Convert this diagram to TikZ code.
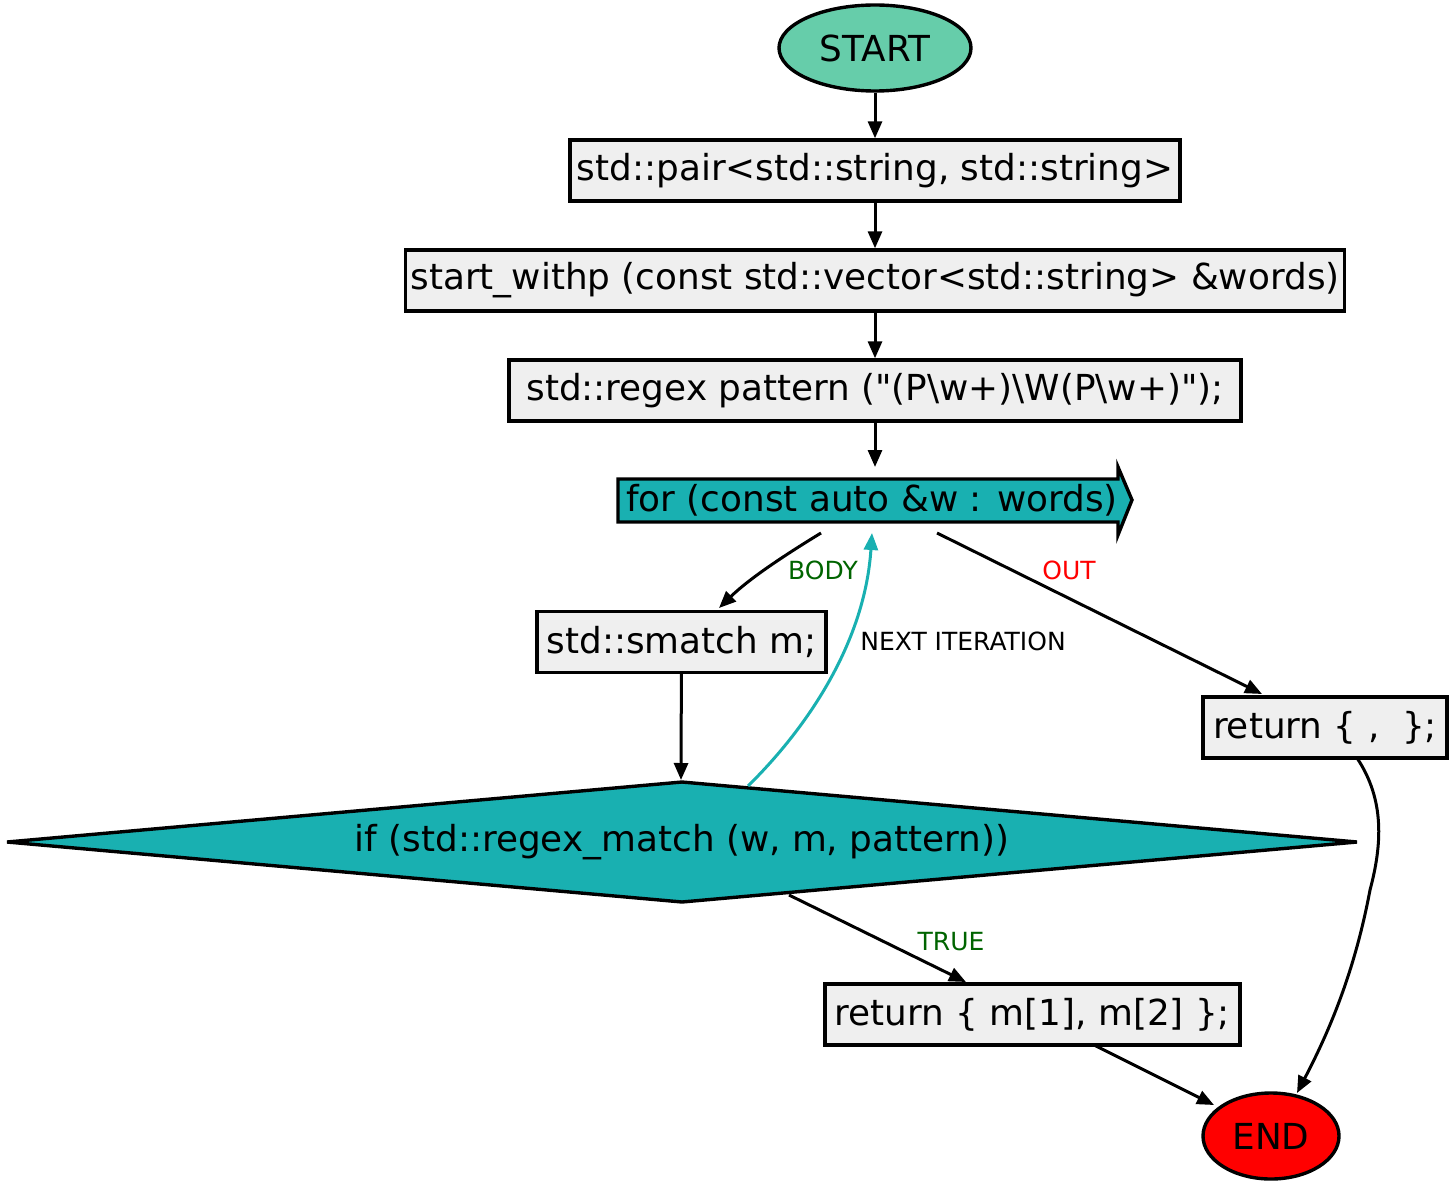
\documentclass[tikz,border=0pt]{standalone}
\usepackage{fontspec}
\setmainfont{DejaVu Sans}[Ligatures=TeXOff]
\usetikzlibrary{arrows.meta,shapes.geometric}
\definecolor{boxgray}{HTML}{EFEFEF}
\definecolor{startg}{HTML}{66CDAA}
\definecolor{tealc}{HTML}{19B0B1}
\definecolor{lblgreen}{HTML}{006400}
\definecolor{endred}{HTML}{FF0000}
\begin{document}
\begin{tikzpicture}[x=1pt,y=-1pt,
  every node/.style={font=\fontsize{35.8}{42}\selectfont, inner sep=0pt},
  stm/.style={draw, line width=3.4pt, fill=boxgray, minimum height=61pt},
  term/.style={ellipse, draw, line width=3.4pt},
  conn/.style={line width=3pt, -{Triangle[length=17pt,width=14pt]}},
  lbl/.style={font=\fontsize{25}{29}\selectfont}]
\useasboundingbox (0,0) rectangle (1453,1185);
% nodes
\node[term, fill=startg, minimum width=192pt, minimum height=86pt] (start) at (875,48) {START};
\node[stm, minimum width=610pt] (b1) at (875,170.5) {std::pair<std::string, std::string>};
\node[stm, minimum width=939pt] (b2) at (875,280.5) {start\_withp (const std::vector<std::string> \&words)};
\node[stm, minimum width=732pt] (b3) at (875,390.5) {std::regex pattern ("(P\textbackslash w+)\textbackslash W(P\textbackslash w+)");};
% for loop rarrow
\draw[line width=3.4pt, fill=tealc] (618,479) -- (1118,479) -- (1118,467) -- (1132,500) -- (1118,535) -- (1118,522) -- (618,522) -- cycle;
\node (loop) at (872,500) {for (const auto \&w : words)};
\node[stm, minimum width=289pt] (sm) at (681.5,642) {std::smatch m;};
\node[stm, minimum width=244pt] (r1) at (1325,727.5) {return \{ ,~ \};};
% diamond
\draw[line width=3.4pt, fill=tealc] (7,842) -- (682,782) -- (1357,842) -- (682,902) -- cycle;
\node (cond) at (682,842) {if (std::regex\_match (w, m, pattern))};
\node[stm, minimum width=415pt] (r2) at (1032.5,1014.5) {return \{ m[1], m[2] \};};
\node[term, fill=endred, minimum width=136pt, minimum height=86pt] (end) at (1271,1136) {END};
% coordinates
\coordinate (loopin) at (875,467);
\coordinate (loopbl) at (821,533);
\coordinate (loopbr) at (937,533);
\coordinate (loopb) at (872,533);
\coordinate (smin) at (719,608);
\coordinate (r1in) at (1262,694);
\coordinate (r1out) at (1357,758);
\coordinate (condtop) at (681,780);
\coordinate (condback) at (748,786);
\coordinate (condout) at (789,895);
\coordinate (r2in) at (966,982);
\coordinate (r2out) at (1094,1045);
\coordinate (endin1) at (1214,1105);
\coordinate (endin2) at (1297,1093);
% edges
\draw[conn] (start) -- (b1);
\draw[conn] (b1) -- (b2);
\draw[conn] (b2) -- (b3);
\draw[conn] (b3) -- (loopin);
\draw[conn] (loopbl) .. controls (785,555) and (750,578) .. (smin);
\node[lbl, text=lblgreen] (lbody) at (823,570) {BODY};
\draw[conn] (loopbr) -- (r1in);
\node[lbl, text=endred] (lout) at (1069,570) {OUT};
\draw[conn] (sm) -- (condtop);
\draw[conn, tealc] (condback) .. controls (810,725) and (865,640) .. (loopb);
\node[lbl] (lnext) at (963,641) {NEXT ITERATION};
\draw[conn] (condout) -- (r2in);
\node[lbl, text=lblgreen] (ltrue) at (951,942) {TRUE};
\draw[conn] (r2out) -- (endin1);
\draw[conn] (r1out) .. controls (1385,800) and (1382,845) .. (1370,890) .. controls (1355,970) and (1330,1030) .. (endin2);
\end{tikzpicture}
\end{document}
